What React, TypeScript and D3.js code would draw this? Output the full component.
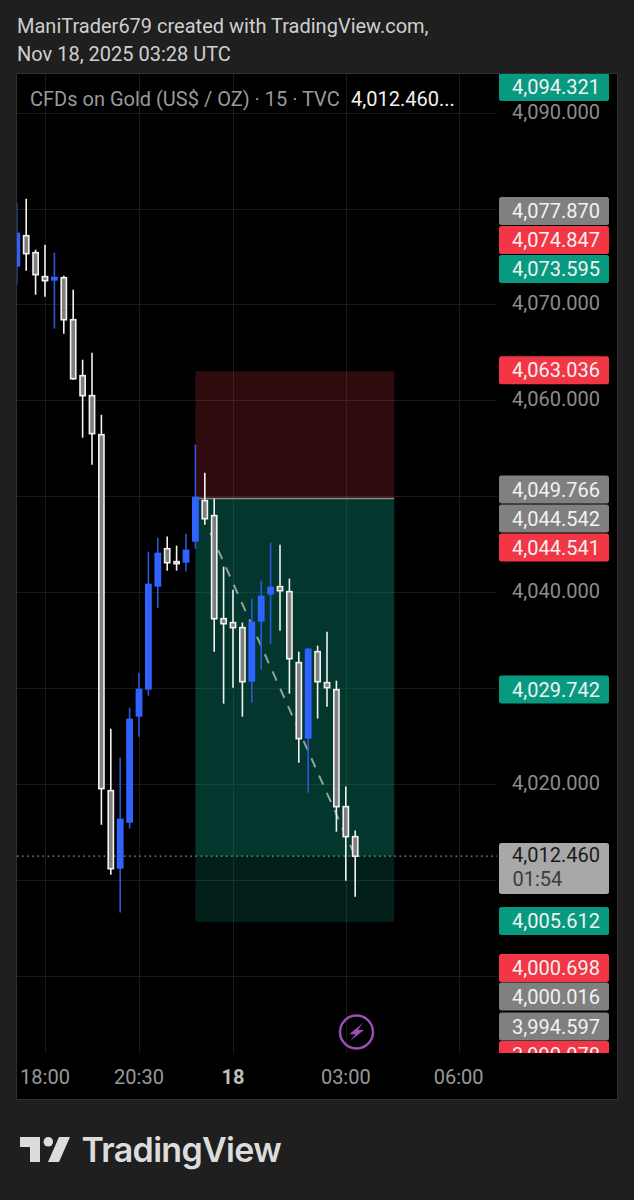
import React from "react";
import * as d3 from "d3";

const opens = [4073.94,4077.17,4075.40,4072.90,4072.48,4072.79,4068.41,4062.57,4060.49,4056.42,4019.30,4011.16,4015.96,4027.01,4029.83,4040.57,4044.53,4043.18,4043.07,4045.26,4049.54,4047.98,4037.23,4036.82,4036.30,4030.66,4036.92,4039.74,4040.57,4040.05,4032.65,4024.72,4033.79,4030.56,4029.83,4017.63,4014.50];
const highs = [4080.61,4081.03,4075.71,4076.24,4075.40,4073.00,4071.54,4064.24,4064.97,4058.51,4025.76,4022.74,4027.95,4031.60,4044.22,4045.68,4045.79,4044.85,4046.10,4055.38,4052.46,4049.75,4042.66,4040.26,4036.82,4039.32,4041.20,4045.16,4044.95,4041.41,4033.79,4034.21,4034.42,4035.88,4030.77,4019.72,4015.13];
const lows = [4072.06,4073.52,4071.02,4070.81,4067.48,4066.95,4062.16,4056.11,4053.29,4015.75,4010.54,4006.58,4015.34,4024.93,4029.20,4038.38,4042.24,4042.24,4042.14,4044.53,4047.04,4033.79,4028.37,4030.04,4027.01,4028.47,4031.92,4034.63,4035.98,4029.41,4022.22,4019.09,4026.81,4028.06,4015.02,4009.91,4008.24];
const closes = [4077.49,4075.30,4073.11,4072.48,4072.90,4068.41,4062.26,4060.49,4056.53,4019.51,4011.16,4016.38,4026.81,4029.93,4040.88,4044.12,4043.07,4043.07,4044.43,4049.96,4047.66,4037.23,4036.71,4036.30,4030.66,4036.92,4039.63,4040.57,4040.15,4033.06,4024.72,4034.11,4030.66,4030.04,4017.63,4014.50,4012.46];

const priceTicks = [4090, 4080, 4070, 4060, 4050, 4040, 4030, 4020, 4010, 4000];
const labelledPriceTicks = [4090, 4070, 4060, 4040, 4020];
const timeTickBars = [3, 13, 23, 35, 47];
const timeTickLabels = ["18:00", "20:30", "18", "03:00", "06:00"];

const tagPrices = [4094.321, 4077.87, 4074.847, 4073.595, 4063.036, 4049.766, 4044.542, 4044.541, 4029.742, 4005.612, 4000.698, 4000.016, 3994.597, 3990.078];
const tagKinds = ["g", "n", "r", "g", "r", "n", "n", "r", "g", "g", "r", "n", "n", "r"];

const lastPrice = 4012.46;
const entryPrice = 4049.766;
const targetPrice = 4005.612;
const stopPrice = 4063.036;
const positionBars = [19, 40.15];
const tradeLinePrices = [4046.2, 4012.46];
const tradeLineBars = [20.6, 36];

const W = 634;
const H = 1200;
const panel = { l: 17, t: 74, r: 617, b: 1099 };
const plotR = 497;
const plotB = 1053;
const font = "Roboto, sans-serif";
const bg = "#1f1f1f";
const tagColor: Record<string, string> = { g: "#089981", r: "#f23645", n: "#808080" };

const y = d3.scaleLinear().domain([4090, 4000]).range([112.7, 975.7]);
const x = d3.scaleLinear().domain([3, 13]).range([45, 139]);
const fmt = d3.format(",.3f");

function tagPositions(): number[] {
  const ys = tagPrices.map((p) => y(p) - 1);
  const gap = 29;
  ys[0] = Math.max(ys[0], 87);
  ys[13] = Math.min(ys[13], 1055);
  const split = 9;
  for (let i = split - 2; i >= 1; i--) if (ys[i] > ys[i + 1] - gap) ys[i] = ys[i + 1] - gap;
  for (let i = split + 1; i < ys.length; i++) if (ys[i] < ys[i - 1] + 28.5) ys[i] = ys[i - 1] + 28.5;
  return ys;
}

export default function App() {
  const tagYs = tagPositions();
  const bw = 6.8;
  const tradeLine = d3
    .line<number>()
    .x((b) => x(b))
    .y((_, i) => y(tradeLinePrices[i]))(tradeLineBars);
  const px0 = x(positionBars[0]);
  const px1 = x(positionBars[1]);
  return (
    <svg
      width={W}
      height={H}
      viewBox={`0 0 ${W} ${H}`}
      style={{ position: "absolute", left: 0, top: 0, display: "block" }}
      fontFamily={font}
    >
      <rect width={W} height={H} fill={bg} />
      <text x={17} y={33} fontSize={20} fill="#cfcfcf">ManiTrader679 created with TradingView.com,</text>
      <text x={17} y={61} fontSize={20} fill="#cfcfcf">Nov 18, 2025 03:28 UTC</text>

      <rect x={panel.l - 0.5} y={panel.t - 0.5} width={panel.r - panel.l + 1} height={panel.b - panel.t + 1} fill="#000" stroke="#303030" strokeWidth={1} />
      <defs>
        <clipPath id="plot"><rect x={panel.l} y={panel.t} width={plotR - panel.l} height={plotB - panel.t} /></clipPath>
        <clipPath id="tags"><rect x={panel.l} y={panel.t} width={panel.r - panel.l} height={plotB - panel.t} /></clipPath>
      </defs>

      <g stroke="#1a1a1a" strokeWidth={1}>
        {priceTicks.map((p) => (
          <line key={p} x1={panel.l} x2={plotR} y1={Math.round(y(p)) + 0.5} y2={Math.round(y(p)) + 0.5} />
        ))}
        {timeTickBars.map((b) => (
          <line key={b} x1={Math.round(x(b)) + 0.5} x2={Math.round(x(b)) + 0.5} y1={panel.t} y2={plotB} />
        ))}
      </g>

      <g clipPath="url(#plot)">
        <rect x={px0} y={y(stopPrice)} width={px1 - px0} height={y(entryPrice) - y(stopPrice)} fill="#f23645" fillOpacity={0.2} />
        <rect x={px0} y={y(entryPrice)} width={px1 - px0} height={y(targetPrice) - y(entryPrice)} fill="#089981" fillOpacity={0.2} />
        <rect x={px0} y={y(entryPrice)} width={px1 - px0} height={y(lastPrice) - y(entryPrice)} fill="#089981" fillOpacity={0.2} />
        <line x1={px0} x2={px1} y1={y(entryPrice)} y2={y(entryPrice)} stroke="#8a8a8a" strokeWidth={1.6} />
        <path d={tradeLine ?? ""} fill="none" stroke="#93a09d" strokeWidth={2} strokeDasharray="10 9" />
        <line x1={panel.l} x2={plotR} y1={y(lastPrice)} y2={y(lastPrice)} stroke="#9a9a9a" strokeWidth={1.2} strokeDasharray="1.5 3.6" />

        {opens.map((o, i) => {
          const c = closes[i];
          const up = c > o;
          const cx = x(i);
          const top = y(Math.max(o, c));
          const bot = y(Math.min(o, c));
          return up ? (
            <g key={i}>
              <line x1={cx} x2={cx} y1={y(highs[i])} y2={y(lows[i])} stroke="#2c57d8" strokeWidth={1.6} />
              <rect x={cx - bw / 2} y={top} width={bw} height={bot - top} fill="#2f62ff" />
            </g>
          ) : (
            <g key={i}>
              <line x1={cx} x2={cx} y1={y(highs[i])} y2={y(lows[i])} stroke="#f2f2f2" strokeWidth={1.6} />
              <rect x={cx - bw / 2 + 0.8} y={top} width={bw - 1.6} height={Math.max(bot - top, 2)} fill="#7f7f7f" stroke="#f2f2f2" strokeWidth={1.6} />
            </g>
          );
        })}

        <circle cx={356.5} cy={1032} r={16.5} fill="none" stroke="#9b4fb8" strokeWidth={2.4} />
        <path d="M363 1023 L349.5 1034 L355.5 1034.5 L350 1041 L364 1030 L358 1029.8 Z" fill="#9b4fb8" />
      </g>

      <text x={30} y={106} fontSize={20} fill="#9a9a9a">CFDs on Gold (US$ / OZ) · 15 · TVC</text>
      <text x={351} y={106} fontSize={20} fill="#f2f2f2">4,012.460...</text>

      <g textAnchor="middle" fontSize={20} fill="#8c8c8c">
        {labelledPriceTicks.map((p) => (
          <text key={p} x={556} y={y(p) + 6}>{fmt(p)}</text>
        ))}
      </g>

      <g clipPath="url(#tags)">
        {tagPrices.map((p, i) => (
          <g key={p}>
            <rect x={499} y={tagYs[i] - 14} width={110} height={28} rx={2.5} fill={tagColor[tagKinds[i]]} />
            <text x={556} y={tagYs[i] + 7} textAnchor="middle" fontSize={20} fill="#f2f2f2">{fmt(p)}</text>
          </g>
        ))}
      </g>

      <rect x={499} y={843} width={110} height={51} rx={2.5} fill="#a8a8a8" />
      <text x={556} y={862} textAnchor="middle" fontSize={20} fill="#1a1a1a">{fmt(lastPrice)}</text>
      <text x={512.5} y={886} fontSize={20} fill="#3c3c3c">01:54</text>

      <g textAnchor="middle" fontSize={20} fill="#999">
        {timeTickBars.map((b, i) => (
          <text key={b} x={x(b)} y={1084} fontWeight={timeTickLabels[i] === "18" ? 700 : 400} fill={timeTickLabels[i] === "18" ? "#bdbdbd" : "#999"}>
            {timeTickLabels[i]}
          </text>
        ))}
      </g>

      <g fill="#dcdcdc">
        <path d="M20 1137 H40 V1162 H30 V1147 H20 Z" />
        <circle cx={48.3} cy={1141.8} r={4.8} />
        <path d="M59 1137 H70 L59 1162 H48 Z" />
      </g>
      <text x={81.5} y={1162} fontFamily="Inter, sans-serif" fontWeight={600} fontSize={34} letterSpacing={-0.7} fill="#dcdcdc">TradingView</text>
    </svg>
  );
}
